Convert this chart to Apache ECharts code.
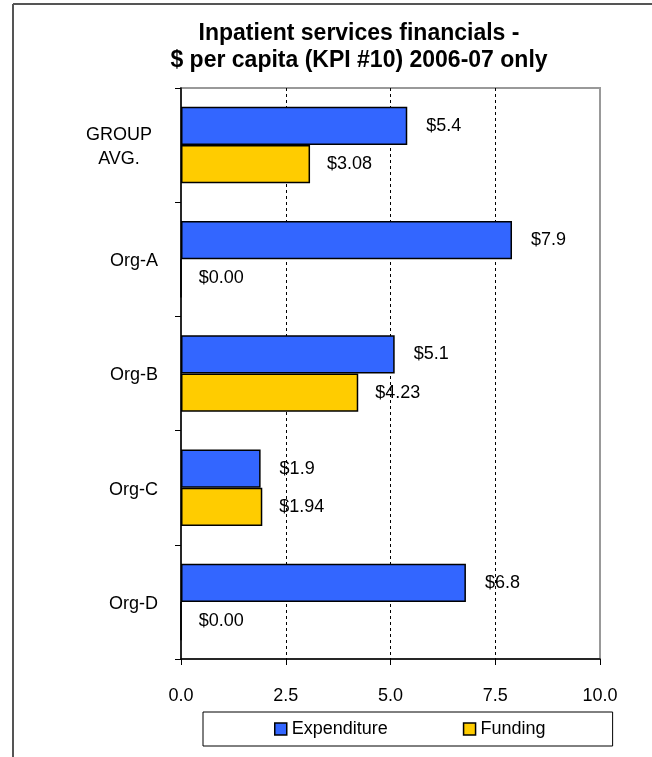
<!DOCTYPE html>
<html>
<head>
<meta charset="utf-8">
<script src="https://cdn.jsdelivr.net/npm/echarts@6/dist/echarts.min.js"></script>
<style>
  html, body { margin: 0; padding: 0; background: #fff; }
  #chart { width: 652px; height: 757px; }
</style>
</head>
<body>
<div id="chart"></div>
<script>
// data
const categories = ['GROUP\nAVG.', 'Org-A', 'Org-B', 'Org-C', 'Org-D']
const expenditure = [5.4, 7.9, 5.1, 1.9, 6.8]
const funding = [3.08, 0.00, 4.23, 1.94, 0.00]
const xTicks = [0, 2.5, 5, 7.5, 10]

const font = 'Liberation Sans, Arial, sans-serif'

const chart = echarts.init(document.getElementById('chart'))

const option = {
  backgroundColor: '#fff',
  animation: false,
  title: {
    text: 'Inpatient services financials -\n$ per capita (KPI #10) 2006-07 only',
    left: 359,
    top: 20,
    padding: 0,
    textAlign: 'center',
    textStyle: {
      fontFamily: font,
      fontSize: 23,
      fontWeight: 'bold',
      color: '#000',
      lineHeight: 27
    }
  },
  legend: {
    data: ['Expenditure', 'Funding'],
    left: 203,
    top: 712,
    padding: [8, 67, 8, 71],
    itemGap: 75,
    itemWidth: 12,
    itemHeight: 12,
    itemStyle: { borderColor: '#000', borderWidth: 1.5 },
    borderColor: '#000',
    borderWidth: 1,
    icon: 'rect',
    textStyle: { fontFamily: font, fontSize: 18, color: '#000' }
  },
  grid: {
    left: 181,
    right: 52,
    top: 88,
    bottom: 98,
    show: true,
    borderColor: '#999',
    borderWidth: 2,
    backgroundColor: '#fff'
  },
  xAxis: {
    type: 'value',
    min: xTicks[0],
    max: xTicks[xTicks.length - 1],
    interval: 2.5,
    axisLine: { show: true, lineStyle: { color: '#000', width: 1.5 } },
    axisTick: { show: true, inside: false, length: 6, lineStyle: { color: '#000' } },
    axisLabel: {
      margin: 28,
      fontFamily: font,
      fontSize: 18,
      color: '#000',
      formatter: v => v.toFixed(1)
    },
    splitLine: {
      show: true,
      lineStyle: {
        color: ['rgba(0,0,0,0)', '#000', '#000', '#000', 'rgba(0,0,0,0)'],
        type: [3, 3],
        width: 1
      }
    }
  },
  yAxis: {
    type: 'category',
    data: categories,
    inverse: true,
    axisLine: { show: true, lineStyle: { color: '#000', width: 1.5 } },
    axisTick: { show: true, inside: false, length: 6, lineStyle: { color: '#000' } },
    axisLabel: {
      margin: 23,
      fontFamily: font,
      fontSize: 18,
      color: '#000',
      padding: [4, 0, 0, 0],
      formatter: v => v.indexOf('\n') >= 0 ? '{c|GROUP}\n{c|AVG.}' : v,
      rich: {
        c: { fontFamily: font, fontSize: 18, color: '#000', lineHeight: 24, width: 78, align: 'center' }
      }
    }
  },
  series: [
    {
      name: 'Expenditure',
      type: 'bar',
      data: expenditure,
      barCategoryGap: '33%',
      barGap: '0%',
      itemStyle: { color: '#3366FF', borderColor: '#000', borderWidth: 1.5 },
      label: {
        show: true,
        position: 'right',
        distance: 19,
        fontFamily: font,
        fontSize: 18,
        color: '#000',
        formatter: p => '$' + p.value.toFixed(1)
      }
    },
    {
      name: 'Funding',
      type: 'bar',
      data: funding,
      barCategoryGap: '33%',
      barGap: '0%',
      itemStyle: { color: '#FFCC00', borderColor: '#000', borderWidth: 1.5 },
      label: {
        show: true,
        position: 'right',
        distance: 17,
        fontFamily: font,
        fontSize: 18,
        color: '#000',
        formatter: p => '$' + p.value.toFixed(2)
      }
    }
  ],
  graphic: [
    // chart area frame (left & top edges visible in the reference)
    { type: 'line', shape: { x1: 13, y1: 4, x2: 13, y2: 757 }, style: { stroke: '#555', lineWidth: 2 } },
    { type: 'line', shape: { x1: 13, y1: 4, x2: 652, y2: 4 }, style: { stroke: '#555', lineWidth: 2 } }
  ]
}

chart.setOption(option)
</script>
</body>
</html>
